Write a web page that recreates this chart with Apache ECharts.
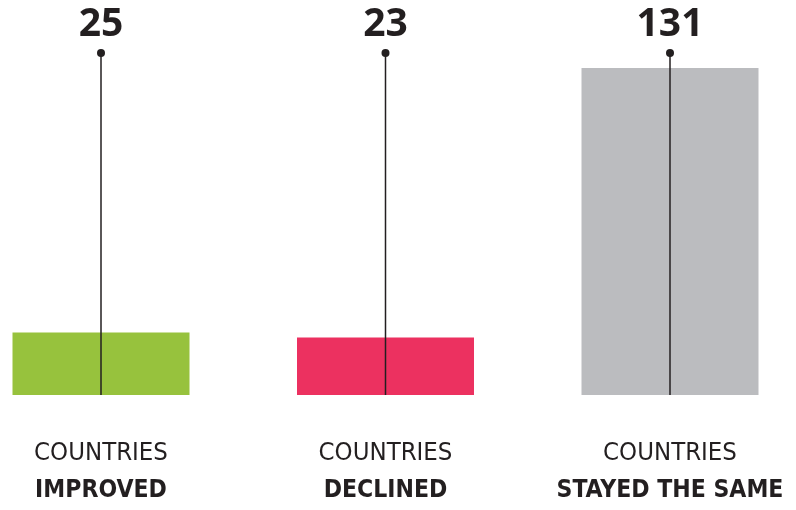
<!DOCTYPE html>
<html>
<head>
<meta charset="utf-8">
<script src="https://cdn.jsdelivr.net/npm/echarts@6/dist/echarts.min.js"></script>
<style>html,body{margin:0;padding:0;background:#fff;}#c{width:796px;height:510px;}</style>
</head>
<body>
<div id="c"></div>
<script>
const categories = ['IMPROVED', 'DECLINED', 'STAYED THE SAME'];
const labelPrefix = 'COUNTRIES';
const values = [25, 23, 131];
const colors = ['#97c23d', '#ec3160', '#bbbcbf'];
const STEM_TOP = 137;

const FONT = '"Liberation Sans Narrow", "Arial Narrow", "DejaVu Sans Condensed", "Noto Sans", sans-serif';
const chart = echarts.init(document.getElementById('c'));
const xBase = {
  type: 'category',
  data: categories,
  boundaryGap: false,
  axisLine: {show: false},
  axisTick: {show: false}
};
chart.setOption({
  animation: false,
  grid: {left: 101, right: 126, top: 53, bottom: 115, outerBoundsMode: 'none', containLabel: false},
  xAxis: [
    Object.assign({}, xBase, {
      axisLabel: {
        margin: 40,
        interval: 0,
        hideOverlap: false,
        formatter: v => '{a|' + labelPrefix + '}\n{b|' + v + '}',
        rich: {
          a: {fontFamily: FONT, fontSize: 25.5, color: '#231f20', lineHeight: 37},
          b: {fontFamily: FONT, fontSize: 24.5, fontWeight: 'bold', color: '#231f20', lineHeight: 37}
        }
      }
    }),
    Object.assign({}, xBase, {axisLabel: {show: false}})
  ],
  yAxis: {type: 'value', min: 0, max: STEM_TOP, show: false, splitLine: {show: false}},
  series: [
    {
      type: 'bar',
      xAxisIndex: 0,
      barWidth: 177,
      data: values.map((v, i) => ({value: v, itemStyle: {color: colors[i]}})),
      z: 1
    },
    {
      type: 'bar',
      xAxisIndex: 1,
      barWidth: 1.5,
      data: values.map(() => STEM_TOP),
      itemStyle: {color: '#231f20'},
      z: 3
    },
    {
      type: 'scatter',
      xAxisIndex: 1,
      symbolSize: 8,
      clip: false,
      itemStyle: {color: '#231f20', opacity: 1},
      data: values.map(() => STEM_TOP),
      label: {
        show: true,
        position: 'top',
        distance: 5,
        formatter: p => String(values[p.dataIndex]),
        fontFamily: 'Open Sans',
        fontWeight: 'bold',
        fontSize: 39,
        color: '#231f20',
        opacity: 1
      },
      z: 4
    }
  ]
});
</script>
</body>
</html>
